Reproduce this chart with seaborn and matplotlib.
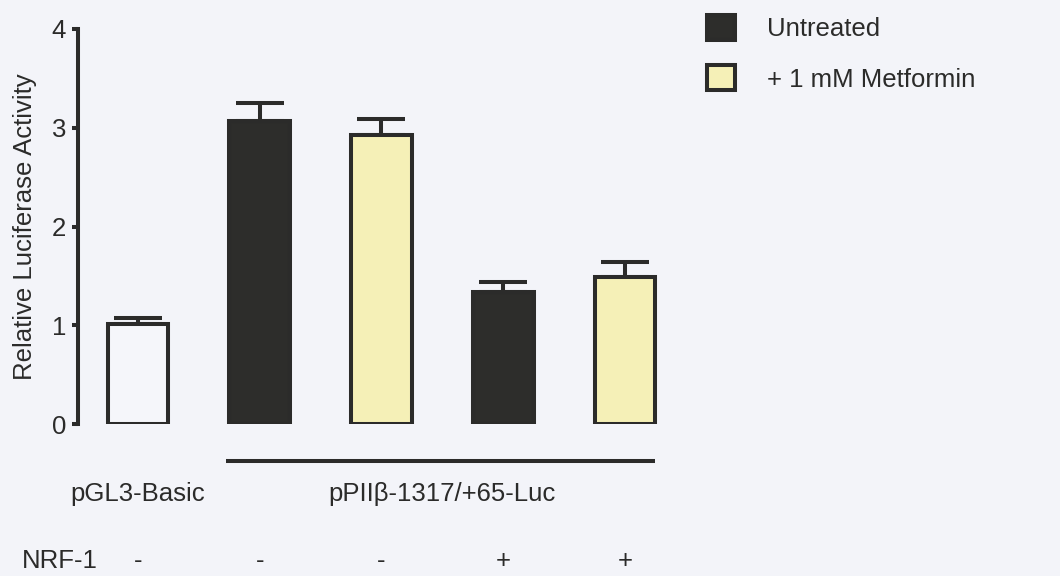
import matplotlib
matplotlib.use("Agg")
import matplotlib.pyplot as plt
from matplotlib.patches import Patch
import seaborn as sns
import pandas as pd

# Luciferase reporter data
conditions = ["pGL3-Basic", "pPII-untreated", "pPII-metformin",
              "pPII+NRF1-untreated", "pPII+NRF1-metformin"]
activity = [1.01, 3.07, 2.93, 1.34, 1.49]
sem = [0.06, 0.18, 0.16, 0.10, 0.15]
nrf1_status = ["-", "-", "-", "+", "+"]
y_ticks = [0, 1, 2, 3, 4]
legend_labels = ["Untreated", "+ 1 mM Metformin"]
group_labels = ["pGL3-Basic", "pPIIβ-1317/+65-Luc"]

INK = "#2b2b2a"
BLACK_FILL = "#2d2d2b"
YELLOW_FILL = "#f5f0b7"
BG = "#f3f4f9"
bar_colors = ["#f5f6fa", BLACK_FILL, YELLOW_FILL, BLACK_FILL, YELLOW_FILL]

sns.set_theme(style="white")
plt.rcParams["font.family"] = ["Liberation Sans", "DejaVu Sans"]
plt.rcParams["text.color"] = INK

FS = 18.5
LW = 2.9

fig = plt.figure(figsize=(10.6, 5.76), dpi=100, facecolor=BG)
ax = fig.add_axes([78 / 1060, 152 / 576, 602 / 1060, 395 / 576])
ax.set_facecolor("none")

df = pd.DataFrame({"condition": conditions, "activity": activity})
sns.barplot(data=df, x="condition", y="activity", hue="condition",
            order=conditions, hue_order=conditions, palette=bar_colors,
            saturation=1, width=0.5, edgecolor=INK, linewidth=LW,
            legend=False, ax=ax, errorbar=None, zorder=3)

# one-sided (upper) SEM bars
positions = list(range(len(conditions)))
ax.errorbar(positions, activity, yerr=[[0] * len(sem), sem], fmt="none",
            ecolor=INK, elinewidth=LW, capsize=17, capthick=LW, zorder=2)

ax.set_xlim(-0.493, 4.452)
ax.set_ylim(0, 4)
ax.set_yticks(y_ticks)
ax.set_yticklabels([str(t) for t in y_ticks])
ax.set_xticks([])
ax.set_xlabel("")
ax.set_ylabel("Relative Luciferase Activity", fontsize=FS, color=INK, labelpad=11)

for side in ["top", "right", "bottom"]:
    ax.spines[side].set_visible(False)
ax.spines["left"].set_linewidth(LW)
ax.spines["left"].set_color(INK)
ax.tick_params(axis="y", which="major", left=True, direction="out",
               length=4.5, width=LW, color=INK, pad=4,
               labelsize=FS, labelcolor=INK)

# bracket line under the reporter construct bars
ax.plot([0.72, 4.245], [-0.375, -0.375], color=INK, lw=LW, clip_on=False,
        solid_capstyle="butt")

ax.text(0, -0.71, group_labels[0], ha="center", va="center", fontsize=FS)
ax.text(2.5, -0.71, group_labels[1], ha="center", va="center", fontsize=FS)

ax.text(-0.64, -1.39, "NRF-1", ha="center", va="center", fontsize=FS)
for pos, s in zip(positions, nrf1_status):
    ax.text(pos, -1.39, s, ha="center", va="center", fontsize=FS)

handles = [Patch(facecolor=BLACK_FILL, edgecolor=INK, linewidth=LW),
           Patch(facecolor=YELLOW_FILL, edgecolor=INK, linewidth=LW)]
fig.legend(handles, legend_labels, loc="upper left",
           bbox_to_anchor=(707 / 1060, 1 - 15 / 576),
           bbox_transform=fig.transFigure, frameon=False, fontsize=FS,
           borderpad=0, borderaxespad=0, handlelength=1.1, handleheight=1.1,
           handletextpad=1.23, labelspacing=0.95)

fig.savefig("out.png", dpi=100, facecolor=BG)
